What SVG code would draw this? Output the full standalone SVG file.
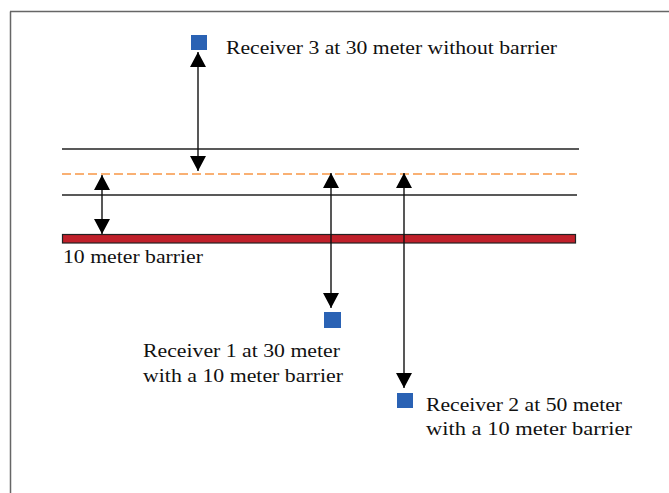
<svg xmlns="http://www.w3.org/2000/svg" width="669" height="493" viewBox="0 0 669 493">
<defs>
<style>
.txt{font-size:19px;fill:#111;}
.rule{stroke:#222;stroke-width:1.4;fill:none;}
.dash{stroke:#f79646;stroke-width:1.5;stroke-dasharray:9 4;fill:none;}
.recv{fill:#2a62b4;}
.conn{stroke:#111;stroke-width:1.4;fill:none;}
.a2{marker-start:url(#ah);marker-end:url(#ah);}
</style>
<marker id="ah" viewBox="0 0 15 16" refX="15" refY="8" markerWidth="15" markerHeight="16" markerUnits="userSpaceOnUse" orient="auto-start-reverse">
<path d="M0,0 L15,8 L0,16 Z" fill="#000"/>
</marker>
</defs>
<rect width="669" height="493" fill="#fff"/>
<g id="frame" stroke="#666" stroke-width="1.5">
<line x1="10.5" y1="11.5" x2="10.5" y2="493"/>
<line x1="10" y1="11.5" x2="669" y2="11.5"/>
</g>
<g id="levels">
<line class="rule" x1="62" y1="149" x2="579" y2="149"/>
<line class="dash" x1="62" y1="174" x2="577" y2="174"/>
<line class="rule" x1="62" y1="195" x2="577" y2="195"/>
</g>
<g font-family="Liberation Serif, DejaVu Serif, serif">
<g id="barrier">
<rect x="62.5" y="234.5" width="513" height="8.5" fill="#c0202a" stroke="#222" stroke-width="1.2"/>
<text class="txt" x="63" y="263" textLength="140" lengthAdjust="spacingAndGlyphs">10 meter barrier</text>
</g>
<g id="receiver3">
<rect class="recv" x="191" y="35" width="16" height="15"/>
<text class="txt" x="226" y="54" textLength="331" lengthAdjust="spacingAndGlyphs">Receiver 3 at 30 meter without barrier</text>
</g>
<g id="receiver1">
<rect class="recv" x="324" y="312" width="17" height="16"/>
<text class="txt" x="143" y="357" textLength="197" lengthAdjust="spacingAndGlyphs">Receiver 1 at 30 meter</text>
<text class="txt" x="143" y="382" textLength="200" lengthAdjust="spacingAndGlyphs">with a 10 meter barrier</text>
</g>
<g id="receiver2">
<rect class="recv" x="397" y="393" width="16" height="15"/>
<text class="txt" x="426" y="411" textLength="196" lengthAdjust="spacingAndGlyphs">Receiver 2 at 50 meter</text>
<text class="txt" x="426" y="435" textLength="206" lengthAdjust="spacingAndGlyphs">with a 10 meter barrier</text>
</g>
</g>
<g id="connectors">
<line class="conn a2" x1="198" y1="52" x2="198" y2="171"/>
<line class="conn a2" x1="102" y1="175" x2="102" y2="234"/>
<line class="conn a2" x1="331" y1="173" x2="331" y2="308"/>
<line class="conn a2" x1="404" y1="173" x2="404" y2="388"/>
</g>
</svg>
